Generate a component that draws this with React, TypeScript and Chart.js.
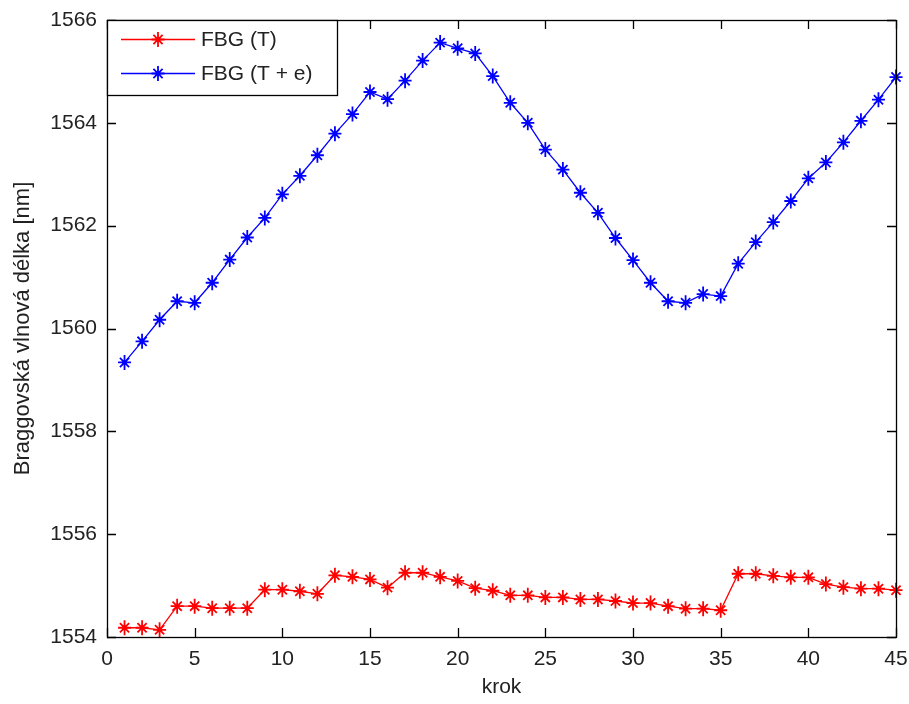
import React, { useEffect, useRef } from "react";
import { Chart, registerables } from "chart.js";

Chart.register(...registerables);

const krok = [1, 2, 3, 4, 5, 6, 7, 8, 9, 10, 11, 12, 13, 14, 15, 16, 17, 18, 19, 20, 21, 22, 23, 24, 25, 26, 27, 28, 29, 30, 31, 32, 33, 34, 35, 36, 37, 38, 39, 40, 41, 42, 43, 44, 45];

const fbgT = [
  1554.18, 1554.18, 1554.14, 1554.6, 1554.6, 1554.56, 1554.56, 1554.56, 1554.92, 1554.92,
  1554.89, 1554.84, 1555.2, 1555.17, 1555.12, 1554.96, 1555.25, 1555.25, 1555.17, 1555.09,
  1554.95, 1554.9, 1554.81, 1554.81, 1554.77, 1554.77, 1554.73, 1554.73, 1554.7, 1554.66,
  1554.66, 1554.6, 1554.55, 1554.55, 1554.52, 1555.23, 1555.23, 1555.19, 1555.16, 1555.16,
  1555.03, 1554.97, 1554.94, 1554.94, 1554.91,
];

const fbgTe = [
  1559.34, 1559.75, 1560.17, 1560.53, 1560.5, 1560.89, 1561.34, 1561.77, 1562.15, 1562.61,
  1562.97, 1563.37, 1563.79, 1564.17, 1564.6, 1564.46, 1564.82, 1565.21, 1565.56, 1565.45,
  1565.35, 1564.91, 1564.39, 1564.0, 1563.48, 1563.09, 1562.64, 1562.25, 1561.76, 1561.33,
  1560.89, 1560.53, 1560.5, 1560.67, 1560.63, 1561.26, 1561.68, 1562.07, 1562.48, 1562.92,
  1563.23, 1563.62, 1564.04, 1564.45, 1564.89,
];

const seriesLabels = ["FBG (T)", "FBG (T + e)"];
const seriesColors = ["#ff0000", "#0000ff"];
const xTicks = [0, 5, 10, 15, 20, 25, 30, 35, 40, 45];
const yTicks = [1554, 1556, 1558, 1560, 1562, 1564, 1566];
const xTitle = "krok";
const yTitle = "Braggovská vlnová délka [nm]";

const FONT = "'Liberation Sans', Arial, Helvetica, sans-serif";
const FS = 21;

function drawStar(ctx: CanvasRenderingContext2D, cx: number, cy: number, color: string) {
  const r = 6.5;
  ctx.strokeStyle = color;
  ctx.lineWidth = 1.8;
  ctx.beginPath();
  for (let k = 0; k < 4; k++) {
    const a = (k * Math.PI) / 4;
    const rr = k === 2 ? r + 1 : r;
    ctx.moveTo(cx - rr * Math.cos(a), cy - rr * Math.sin(a));
    ctx.lineTo(cx + rr * Math.cos(a), cy + rr * Math.sin(a));
  }
  ctx.stroke();
  ctx.fillStyle = color;
  ctx.beginPath();
  ctx.arc(cx, cy, 2.4, 0, Math.PI * 2);
  ctx.fill();
}

const boxPlugin = {
  id: "matlabBox",
  afterDraw(chart: any) {
    const { ctx, chartArea } = chart;
    const { left, right, top, bottom } = chartArea;
    const xs = chart.scales.x;
    const ys = chart.scales.y;
    const tl = 9;
    ctx.save();
    ctx.strokeStyle = "#000";
    ctx.lineWidth = 1.3;
    ctx.beginPath();
    xTicks.forEach((v) => {
      const px = Math.round(xs.getPixelForValue(v)) + 0.5;
      ctx.moveTo(px, bottom);
      ctx.lineTo(px, bottom - tl);
      ctx.moveTo(px, top);
      ctx.lineTo(px, top + tl);
    });
    yTicks.forEach((v) => {
      const py = Math.round(ys.getPixelForValue(v)) + 0.5;
      ctx.moveTo(left, py);
      ctx.lineTo(left + tl, py);
      ctx.moveTo(right, py);
      ctx.lineTo(right - tl, py);
    });
    ctx.stroke();
    ctx.strokeRect(Math.round(left) + 0.5, Math.round(top) + 0.5, Math.round(right - left), Math.round(bottom - top));

    // legend
    const lx = Math.round(left) + 0.5;
    const ly = Math.round(top) + 0.5;
    const lw = 230;
    const lh = 75;
    ctx.fillStyle = "#fff";
    ctx.fillRect(lx, ly, lw, lh);
    ctx.strokeStyle = "#000";
    ctx.lineWidth = 1.3;
    ctx.strokeRect(lx, ly, lw, lh);
    const rows = [39.5, 73.5];
    ctx.font = `${FS}px ${FONT}`;
    ctx.textBaseline = "middle";
    ctx.textAlign = "left";
    chart.data.datasets.forEach((ds: any, i: number) => {
      const y = rows[i];
      const col = seriesColors[i];
      ctx.strokeStyle = col;
      ctx.lineWidth = 1.3;
      ctx.beginPath();
      ctx.moveTo(left + 14, y);
      ctx.lineTo(left + 88, y);
      ctx.stroke();
      drawStar(ctx, left + 51, y, col);
      ctx.fillStyle = "#222";
      ctx.fillText(ds.label, left + 94, y + 1);
    });
    ctx.restore();
  },
};

const markerPlugin = {
  id: "matlabStars",
  afterDatasetsDraw(chart: any) {
    const { ctx } = chart;
    ctx.save();
    chart.data.datasets.forEach((ds: any, i: number) => {
      const meta = chart.getDatasetMeta(i);
      meta.data.forEach((pt: any) => drawStar(ctx, pt.x, pt.y, seriesColors[i]));
    });
    ctx.restore();
  },
};

export default function App() {
  const ref = useRef<HTMLCanvasElement | null>(null);
  useEffect(() => {
    if (!ref.current) return;
    const mk = (vals: number[], i: number) => ({
      label: seriesLabels[i],
      data: krok.map((k, j) => ({ x: k, y: vals[j] })),
      borderColor: seriesColors[i],
      backgroundColor: seriesColors[i],
      borderWidth: 1.3,
      pointRadius: 0,
      pointHoverRadius: 0,
      tension: 0,
      clip: false as any,
    });
    const chart = new Chart(ref.current, {
      type: "line",
      data: { datasets: [mk(fbgT, 0), mk(fbgTe, 1)] },
      options: {
        animation: false,
        responsive: false,
        devicePixelRatio: 1,
        layout: { padding: { top: 20, right: 13, left: 0, bottom: 0 } },
        plugins: { legend: { display: false }, tooltip: { enabled: false } },
        scales: {
          x: {
            type: "linear",
            min: 0,
            max: 45,
            grid: { display: false, drawTicks: false },
            border: { display: false },
            afterFit: (s: any) => {
              s.height = 67;
              s.paddingLeft = 0;
              s.paddingRight = 0;
            },
            afterBuildTicks: (s: any) => {
              s.ticks = xTicks.map((v) => ({ value: v }));
            },
            ticks: {
              padding: 10,
              maxRotation: 0,
              color: "#222",
              font: { family: FONT, size: FS },
              callback: (v: any) => String(v),
            },
            title: {
              display: true,
              text: xTitle,
              color: "#222",
              font: { family: FONT, size: FS },
              padding: { top: 0, bottom: 4 },
            },
          },
          y: {
            type: "linear",
            min: 1554,
            max: 1566,
            grid: { display: false, drawTicks: false },
            border: { display: false },
            afterFit: (s: any) => {
              s.width = 107;
              s.paddingTop = 0;
              s.paddingBottom = 0;
            },
            afterBuildTicks: (s: any) => {
              s.ticks = yTicks.map((v) => ({ value: v }));
            },
            ticks: {
              padding: 10,
              color: "#222",
              font: { family: FONT, size: FS },
              callback: (v: any) => String(v),
            },
            title: {
              display: true,
              text: yTitle,
              color: "#222",
              font: { family: FONT, size: 22 },
              padding: { top: 10, bottom: 0 },
            },
          },
        },
      },
      plugins: [markerPlugin, boxPlugin],
    });
    return () => chart.destroy();
  }, []);
  return (
    <div style={{ position: "absolute", left: 0, top: 0, width: 909, height: 704, background: "#fff" }}>
      <canvas ref={ref} width={909} height={704} style={{ display: "block", width: 909, height: 704 }} />
    </div>
  );
}
